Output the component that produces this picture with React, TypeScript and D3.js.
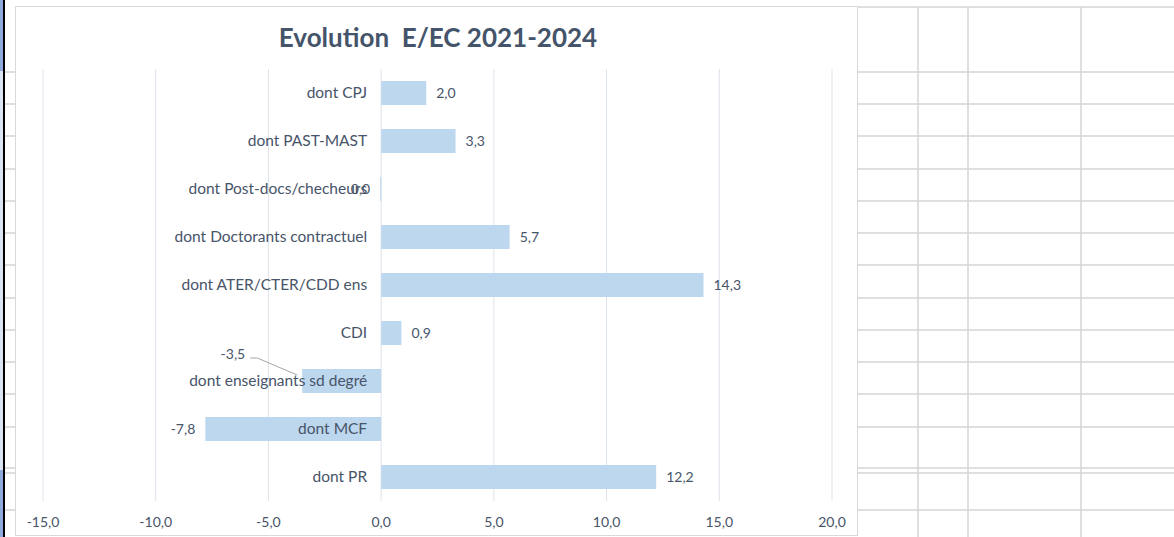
import React from "react";
import * as d3 from "d3";

const categories = [
  "dont CPJ",
  "dont PAST-MAST",
  "dont Post-docs/checheurs",
  "dont Doctorants contractuel",
  "dont ATER/CTER/CDD ens",
  "CDI",
  "dont enseignants sd degré",
  "dont MCF",
  "dont PR",
];
const values = [2.0, 3.3, -0.04, 5.7, 14.3, 0.9, -3.5, -7.8, 12.2];
const xTicks = [-15, -10, -5, 0, 5, 10, 15, 20];
const title = "Evolution  E/EC 2021-2024";

const W = 1174;
const H = 537;
const FONT = "Lato, 'Open Sans', sans-serif";
const TEXT = "#475469";
const BAR = "#BDD7EE";
const GRID = "#DDE2EA";
const CELL = "#D4D4D4";

// spreadsheet background layout
const cellRows = [72, 104, 136, 169, 201, 233, 265, 298, 330, 362, 394, 427, 468, 473, 510];
const cellCols = [918, 968, 1081];

const fmt = (v: number) => {
  const s = d3.format(".1f")(v).replace(".", ",").replace("\u2212", "-");
  return s === "-0,0" ? "0,0" : s;
};

export default function App() {
  const x = d3.scaleLinear().domain([-15, 20]).range([43, 832]);
  const y = d3
    .scaleBand<string>()
    .domain(categories)
    .range([69, 501])
    .paddingInner(0.5)
    .paddingOuter(0.25);
  const bw = y.bandwidth();
  const x0 = x(0);

  const labelOffsets: Record<string, { dx: number; dy: number }> = {
    "dont enseignants sd degré": { dx: -47, dy: -27 },
  };

  return (
    <svg
      width={W}
      height={H}
      style={{ position: "fixed", left: 0, top: 0, background: "#fff" }}
      fontFamily={FONT}
    >
      {/* spreadsheet remnants */}
      <rect x={0} y={0} width={3} height={H} fill="#DCE3F1" />
      <rect x={0} y={0} width={3} height={71} fill="#8EA9DB" />
      <rect x={0} y={470} width={3} height={H - 470} fill="#8EA9DB" />
      <rect x={3} y={0} width={2} height={H} fill="#000" />
      {cellRows.map((r) => (
        <line key={"l" + r} x1={5} x2={15} y1={r} y2={r} stroke={CELL} strokeWidth={1.5} />
      ))}
      {cellRows.map((r) => (
        <line key={"r" + r} x1={858} x2={W} y1={r} y2={r} stroke={CELL} strokeWidth={1.5} />
      ))}
      <line x1={858} x2={W} y1={7} y2={7} stroke={CELL} strokeWidth={1.5} />
      {cellCols.map((c) => (
        <line key={"c" + c} x1={c} x2={c} y1={7} y2={H} stroke={CELL} strokeWidth={1.5} />
      ))}

      {/* chart area */}
      <rect x={15.5} y={6.5} width={842} height={529} fill="#fff" stroke="#D9D9D9" strokeWidth={1} />

      <text
        x={438}
        y={47}
        textAnchor="middle"
        fontSize={26}
        fontWeight={700}
        fill="#44546A"
        style={{ whiteSpace: "pre" }}
      >
        {title}
      </text>

      {/* gridlines */}
      {xTicks.map((t) => (
        <line
          key={"g" + t}
          x1={x(t)}
          x2={x(t)}
          y1={69}
          y2={501}
          stroke={GRID}
          strokeWidth={1}
        />
      ))}

      {/* bars */}
      {categories.map((c, i) => {
        const v = values[i];
        const x1 = Math.min(x(v), x0);
        const w = Math.max(Math.abs(x(v) - x0), 1);
        return <rect key={"b" + c} x={x1} y={y(c)!} width={w} height={bw} fill={BAR} />;
      })}

      {/* category labels */}
      {categories.map((c) => (
        <text
          key={"c" + c}
          x={x0 - 14}
          y={y(c)! + bw / 2}
          dy="0.35em"
          textAnchor="end"
          fontSize={15.5}
          fill={TEXT}
        >
          {c}
        </text>
      ))}

      {/* data labels */}
      {categories.map((c, i) => {
        const v = values[i];
        const neg = v < 0;
        let lx = neg ? x(v) - 10 : x(v) + 10;
        let ly = y(c)! + bw / 2;
        const off = labelOffsets[c];
        let leader = null;
        if (off) {
          lx += off.dx;
          ly += off.dy;
          leader = (
            <polyline
              points={`${lx + 5},${ly + 4} ${lx + 12},${ly + 4} ${x(v) - 5},${y(c)! + 6}`}
              fill="none"
              stroke="#A6A6A6"
              strokeWidth={1}
            />
          );
        }
        return (
          <g key={"d" + c}>
            {leader}
            <text
              x={lx}
              y={ly}
              dy="0.35em"
              textAnchor={neg ? "end" : "start"}
              fontSize={14}
              fill={TEXT}
            >
              {fmt(v)}
            </text>
          </g>
        );
      })}

      {/* x tick labels */}
      {xTicks.map((t) => (
        <text
          key={"t" + t}
          x={x(t)}
          y={522}
          dy="0.35em"
          textAnchor="middle"
          fontSize={14}
          fill={TEXT}
        >
          {fmt(t)}
        </text>
      ))}
    </svg>
  );
}
